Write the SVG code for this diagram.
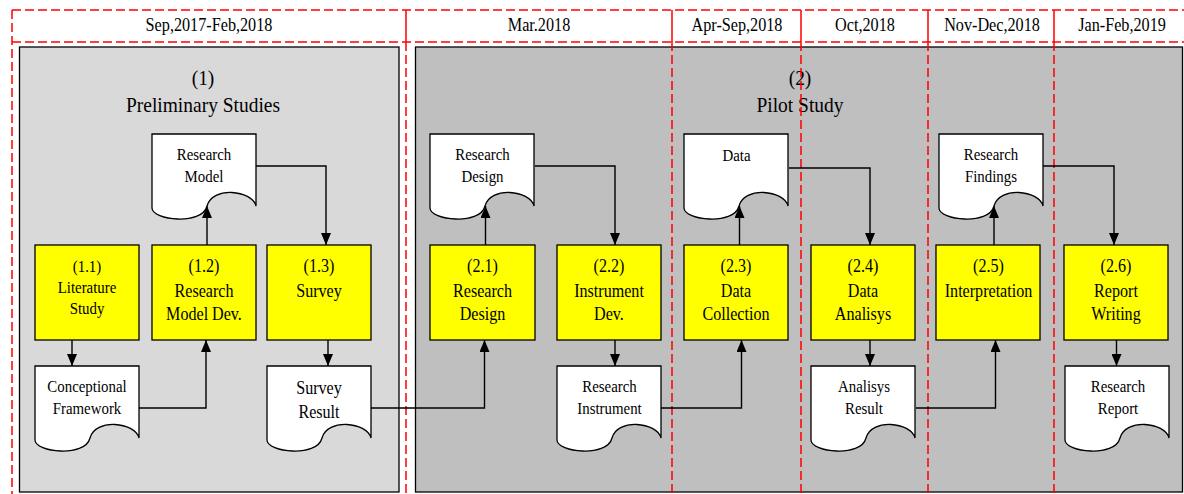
<svg xmlns="http://www.w3.org/2000/svg" width="1184" height="494" viewBox="0 0 1184 494">
<style>
text{font-family:"Liberation Serif","Times New Roman",serif;fill:#000;text-anchor:middle}
.hdr{font-size:18px}
.title{font-size:20.5px}
.big{font-size:18.5px}
.small{font-size:17.5px}
.proc{fill:#ffff00;stroke:#000;stroke-width:1.3}
.doc{fill:#fff;stroke:#000;stroke-width:1.3}
.dash{stroke:#ff0000;stroke-width:1.5;stroke-dasharray:9 4;fill:none}
.solid{stroke:#ff0000;stroke-width:1.5;fill:none}
.conn path{fill:none;stroke:#000;stroke-width:1.4;marker-end:url(#arr)}
</style>
<defs>
<marker id="arr" markerUnits="userSpaceOnUse" markerWidth="12" markerHeight="10" refX="12" refY="5" orient="auto"><path d="M0,0 L12,5 L0,10 Z" fill="#000"/></marker>
<path id="docshape" d="M0,0 H104 V72 C100,56 60,52 55,72 C50,92 0,86 0,74 Z"/>
</defs>
<rect width="1184" height="494" fill="#fff"/>
<g id="phase1">
<rect x="19.5" y="47" width="379.5" height="445" fill="#d9d9d9" stroke="#000" stroke-width="1.3"/>
<text class="title" transform="translate(203,0) scale(0.95,1)" x="0" y="85">(1)</text>
<text class="title" transform="translate(203,0) scale(0.95,1)" x="0" y="112.5">Preliminary Studies</text>
</g>
<g id="phase2">
<rect x="415.5" y="47" width="767" height="445" fill="#bfbfbf" stroke="#000" stroke-width="1.3"/>
<text class="title" transform="translate(800,0) scale(0.95,1)" x="0" y="85">(2)</text>
<text class="title" transform="translate(800,0) scale(0.95,1)" x="0" y="112.5">Pilot Study</text>
</g>
<g id="timeline">
<path class="dash" d="M12,10 H1184 M12,42 H1184 M12,10 V494"/>
<path class="solid" d="M406,10 V42 M672,10 V42 M801,10 V42 M928,10 V42 M1054,10 V42"/>
<path class="dash" d="M406,42 V494 M672,42 V494 M801,42 V494 M928,42 V494 M1054,42 V494"/>
<text class="hdr" transform="translate(209,0) scale(0.9,1)" x="0" y="31">Sep,2017-Feb,2018</text>
<text class="hdr" transform="translate(539,0) scale(0.9,1)" x="0" y="31">Mar.2018</text>
<text class="hdr" transform="translate(737,0) scale(0.9,1)" x="0" y="31">Apr-Sep,2018</text>
<text class="hdr" transform="translate(865,0) scale(0.9,1)" x="0" y="31">Oct,2018</text>
<text class="hdr" transform="translate(992,0) scale(0.9,1)" x="0" y="31">Nov-Dec,2018</text>
<text class="hdr" transform="translate(1122,0) scale(0.9,1)" x="0" y="31">Jan-Feb,2019</text>
</g>
<g id="connectors" class="conn">
<path d="M72,340 V366"/>
<path d="M139,408 H206 V340"/>
<path d="M207,245 V206"/>
<path d="M256,166 H326 V245"/>
<path d="M328,340 V366"/>
<path d="M371,408 H484.5 V340"/>
<path d="M485.5,245 V206"/>
<path d="M535,166 H615 V245"/>
<path d="M615,340 V366"/>
<path d="M661,408 H741.5 V340"/>
<path d="M739.5,245 V206"/>
<path d="M789,168 H870 V245"/>
<path d="M870,340 V366"/>
<path d="M916,408 H995.5 V340"/>
<path d="M994,245 V206"/>
<path d="M1043,166 H1114 V245"/>
<path d="M1116.5,340 V366"/>
</g>
<g id="p11"><rect class="proc" x="35" y="245" width="104" height="95"/>
<text class="small" transform="translate(87,0) scale(0.85,1)" x="0" y="272">(1.1)</text>
<text class="small" transform="translate(87,0) scale(0.85,1)" x="0" y="293.3">Literature</text>
<text class="small" transform="translate(87,0) scale(0.85,1)" x="0" y="314">Study</text></g>
<g id="p12"><rect class="proc" x="152" y="245" width="104" height="95"/>
<text class="big" transform="translate(204,0) scale(0.87,1)" x="0" y="272.5">(1.2)</text>
<text class="big" transform="translate(204,0) scale(0.87,1)" x="0" y="297">Research</text>
<text class="big" transform="translate(204,0) scale(0.87,1)" x="0" y="320.5">Model Dev.</text></g>
<g id="p13"><rect class="proc" x="267" y="245" width="104" height="95"/>
<text class="big" transform="translate(319,0) scale(0.87,1)" x="0" y="272.5">(1.3)</text>
<text class="big" transform="translate(319,0) scale(0.87,1)" x="0" y="297">Survey</text></g>
<g id="p21"><rect class="proc" x="430" y="245" width="105" height="95"/>
<text class="big" transform="translate(482.5,0) scale(0.87,1)" x="0" y="272.5">(2.1)</text>
<text class="big" transform="translate(482.5,0) scale(0.87,1)" x="0" y="297">Research</text>
<text class="big" transform="translate(482.5,0) scale(0.87,1)" x="0" y="320.5">Design</text></g>
<g id="p22"><rect class="proc" x="557" y="245" width="104" height="95"/>
<text class="big" transform="translate(609,0) scale(0.87,1)" x="0" y="272.5">(2.2)</text>
<text class="big" transform="translate(609,0) scale(0.87,1)" x="0" y="297">Instrument</text>
<text class="big" transform="translate(609,0) scale(0.87,1)" x="0" y="320.5">Dev.</text></g>
<g id="p23"><rect class="proc" x="684" y="245" width="104" height="95"/>
<text class="big" transform="translate(736,0) scale(0.87,1)" x="0" y="272.5">(2.3)</text>
<text class="big" transform="translate(736,0) scale(0.87,1)" x="0" y="297">Data</text>
<text class="big" transform="translate(736,0) scale(0.87,1)" x="0" y="320.5">Collection</text></g>
<g id="p24"><rect class="proc" x="811" y="245" width="104" height="95"/>
<text class="big" transform="translate(863,0) scale(0.87,1)" x="0" y="272.5">(2.4)</text>
<text class="big" transform="translate(863,0) scale(0.87,1)" x="0" y="297">Data</text>
<text class="big" transform="translate(863,0) scale(0.87,1)" x="0" y="320.5">Analisys</text></g>
<g id="p25"><rect class="proc" x="936" y="245" width="104" height="95"/>
<text class="big" transform="translate(988.5,0) scale(0.87,1)" x="0" y="272.5">(2.5)</text>
<text class="big" transform="translate(988.5,0) scale(0.87,1)" x="0" y="297">Interpretation</text></g>
<g id="p26"><rect class="proc" x="1064" y="245" width="104" height="95"/>
<text class="big" transform="translate(1116,0) scale(0.87,1)" x="0" y="272.5">(2.6)</text>
<text class="big" transform="translate(1116,0) scale(0.87,1)" x="0" y="297">Report</text>
<text class="big" transform="translate(1116,0) scale(0.87,1)" x="0" y="320.5">Writing</text></g>
<g id="d_model"><use href="#docshape" class="doc" x="152" y="134"/>
<text class="small" transform="translate(204,0) scale(0.85,1)" x="0" y="160">Research</text>
<text class="small" transform="translate(204,0) scale(0.85,1)" x="0" y="182.3">Model</text></g>
<g id="d_design"><use href="#docshape" class="doc" x="430" y="134"/>
<text class="small" transform="translate(482.5,0) scale(0.85,1)" x="0" y="160">Research</text>
<text class="small" transform="translate(482.5,0) scale(0.85,1)" x="0" y="182">Design</text></g>
<g id="d_data"><use href="#docshape" class="doc" x="684" y="134"/>
<text class="small" transform="translate(736.5,0) scale(0.85,1)" x="0" y="161.5">Data</text></g>
<g id="d_findings"><use href="#docshape" class="doc" x="939" y="134"/>
<text class="small" transform="translate(991,0) scale(0.85,1)" x="0" y="160">Research</text>
<text class="small" transform="translate(991,0) scale(0.85,1)" x="0" y="182">Findings</text></g>
<g id="d_concept"><use href="#docshape" class="doc" x="35" y="366"/>
<text class="small" transform="translate(87,0) scale(0.85,1)" x="0" y="391.7">Conceptional</text>
<text class="small" transform="translate(87,0) scale(0.85,1)" x="0" y="414">Framework</text></g>
<g id="d_survey"><use href="#docshape" class="doc" x="267" y="366"/>
<text class="big" transform="translate(319,0) scale(0.87,1)" x="0" y="394">Survey</text>
<text class="big" transform="translate(319,0) scale(0.87,1)" x="0" y="418.3">Result</text></g>
<g id="d_instrument"><use href="#docshape" class="doc" x="557" y="366"/>
<text class="small" transform="translate(609.5,0) scale(0.85,1)" x="0" y="391.7">Research</text>
<text class="small" transform="translate(609.5,0) scale(0.85,1)" x="0" y="414">Instrument</text></g>
<g id="d_analysis"><use href="#docshape" class="doc" x="811" y="366"/>
<text class="small" transform="translate(864,0) scale(0.85,1)" x="0" y="391.7">Analisys</text>
<text class="small" transform="translate(864,0) scale(0.85,1)" x="0" y="414">Result</text></g>
<g id="d_report"><use href="#docshape" class="doc" x="1065" y="366"/>
<text class="small" transform="translate(1118,0) scale(0.85,1)" x="0" y="391.7">Research</text>
<text class="small" transform="translate(1118,0) scale(0.85,1)" x="0" y="414">Report</text></g>
</svg>
